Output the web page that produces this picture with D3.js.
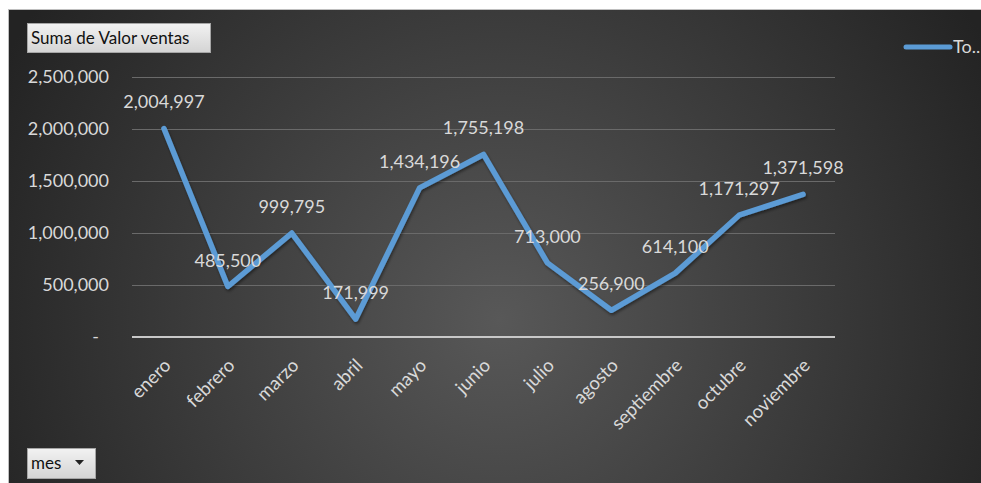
<!DOCTYPE html>
<html>
<head>
<meta charset="utf-8">
<script src="https://cdn.jsdelivr.net/npm/d3@7/dist/d3.min.js"></script>
<style>
  html, body { margin: 0; padding: 0; background: #ffffff; }
  svg { display: block; font-family: Lato, "Open Sans", sans-serif; }
</style>
</head>
<body>
<svg id="chart" width="981" height="483"></svg>
<script>
// Monthly sales totals
const months = ["enero", "febrero", "marzo", "abril", "mayo", "junio", "julio",
                "agosto", "septiembre", "octubre", "noviembre"];
const ventas = [2004997, 485500, 999795, 171999, 1434196, 1755198, 713000,
                256900, 614100, 1171297, 1371598];
const yTicks = [0, 500000, 1000000, 1500000, 2000000, 2500000];
const seriesName = "Total";
const fieldButton = "Suma de Valor ventas";
const axisButton = "mes";

const svg = d3.select("#chart");
const W = 981, H = 483;

// Background panel with radial shading
const defs = svg.append("defs");
const grad = defs.append("radialGradient")
  .attr("id", "bg").attr("gradientUnits", "userSpaceOnUse")
  .attr("cx", 500).attr("cy", 320).attr("r", 560);
grad.append("stop").attr("offset", "0%").attr("stop-color", "#585858");
grad.append("stop").attr("offset", "100%").attr("stop-color", "#232323");

const btnGrad = defs.append("linearGradient")
  .attr("id", "btn").attr("x1", 0).attr("y1", 0).attr("x2", 0).attr("y2", 1);
btnGrad.append("stop").attr("offset", "0%").attr("stop-color", "#f2f2f2");
btnGrad.append("stop").attr("offset", "100%").attr("stop-color", "#d4d4d4");

const shadow = defs.append("filter").attr("id", "lineShadow")
  .attr("x", "-10%").attr("y", "-10%").attr("width", "120%").attr("height", "120%");
shadow.append("feDropShadow").attr("dx", 1).attr("dy", 2)
  .attr("stdDeviation", 1.5).attr("flood-color", "#000").attr("flood-opacity", 0.45);

svg.append("rect").attr("x", 8).attr("y", 9).attr("width", W - 8).attr("height", H - 9)
  .attr("fill", "url(#bg)");
svg.append("line").attr("x1", 8).attr("x2", W).attr("y1", 9.5).attr("y2", 9.5)
  .attr("stroke", "#bfbfbf").attr("stroke-width", 1);
svg.append("line").attr("x1", 8.5).attr("x2", 8.5).attr("y1", 9).attr("y2", H)
  .attr("stroke", "#bfbfbf").attr("stroke-width", 1);

// Scales
const x = d3.scalePoint().domain(months).range([132, 835]).padding(0.5);
const y = d3.scaleLinear().domain([0, 2500000]).range([337, 77]);

const fmt = d3.format(",");
const textColor = "#d9d9d9";

// Gridlines
svg.append("g").selectAll("line")
  .data(yTicks.filter(d => d > 0))
  .join("line")
  .attr("x1", 132).attr("x2", 835)
  .attr("y1", d => Math.round(y(d)) + 0.5).attr("y2", d => Math.round(y(d)) + 0.5)
  .attr("stroke", "#6a6a6a").attr("stroke-width", 1);

// Y axis labels
const yAxis = svg.append("g").attr("transform", "translate(109,0)")
  .call(d3.axisLeft(y).tickValues(yTicks).tickSize(0).tickPadding(0)
    .tickFormat(d => d === 0 ? "-" : fmt(d)));
yAxis.select(".domain").remove();
yAxis.selectAll("text")
  .attr("fill", textColor).attr("font-size", 18)
  .attr("font-family", "Lato, 'Open Sans', sans-serif")
  .attr("dx", d => d === 0 ? -10 : 0);

// Category axis line
svg.append("line").attr("x1", 132).attr("x2", 835)
  .attr("y1", y(0)).attr("y2", y(0))
  .attr("stroke", "#c8c8c8").attr("stroke-width", 2);

// Category labels, rotated
const xAxis = svg.append("g").attr("transform", `translate(0,${y(0)})`)
  .call(d3.axisBottom(x).tickSize(0).tickPadding(0));
xAxis.select(".domain").remove();
xAxis.selectAll("text")
  .attr("fill", textColor).attr("font-size", 18.5)
  .attr("font-family", "Lato, 'Open Sans', sans-serif")
  .attr("text-anchor", "end")
  .attr("dy", "0.35em")
  .attr("transform", "translate(3,25) rotate(-45)");

// Series line
const line = d3.line().x((d, i) => x(months[i])).y(d => y(d));
svg.append("path").datum(ventas)
  .attr("d", line)
  .attr("fill", "none")
  .attr("stroke", "#5b9bd5")
  .attr("stroke-width", 5.5)
  .attr("stroke-linejoin", "round")
  .attr("stroke-linecap", "round")
  .attr("filter", "url(#lineShadow)");

// Data labels above each point
svg.append("g").selectAll("text")
  .data(ventas)
  .join("text")
  .attr("x", (d, i) => x(months[i]))
  .attr("y", d => y(d) - 20)
  .attr("text-anchor", "middle")
  .attr("fill", textColor)
  .attr("font-size", 18)
  .text(d => fmt(d));

// Legend
svg.append("line").attr("x1", 906).attr("x2", 950).attr("y1", 47).attr("y2", 47)
  .attr("stroke", "#5b9bd5").attr("stroke-width", 5).attr("stroke-linecap", "round");
svg.append("text").attr("x", 953).attr("y", 53)
  .attr("fill", textColor).attr("font-size", 18)
  .text(seriesName.slice(0, 2) + "..");

// Field buttons
const fb = svg.append("g");
fb.append("rect").attr("x", 27.5).attr("y", 23.5).attr("width", 183).attr("height", 29)
  .attr("fill", "url(#btn)").attr("stroke", "#a6a6a6");
fb.append("text").attr("x", 31).attr("y", 44).attr("font-size", 17).attr("fill", "#111")
  .text(fieldButton);

const ab = svg.append("g");
ab.append("rect").attr("x", 27.5).attr("y", 448.5).attr("width", 68).attr("height", 30)
  .attr("fill", "url(#btn)").attr("stroke", "#a6a6a6");
ab.append("text").attr("x", 31).attr("y", 469).attr("font-size", 17).attr("fill", "#111")
  .text(axisButton);
ab.append("path")
  .attr("d", d3.line()([[75, 460], [84, 460], [79.5, 465]]) + "Z")
  .attr("fill", "#222");
</script>
</body>
</html>
